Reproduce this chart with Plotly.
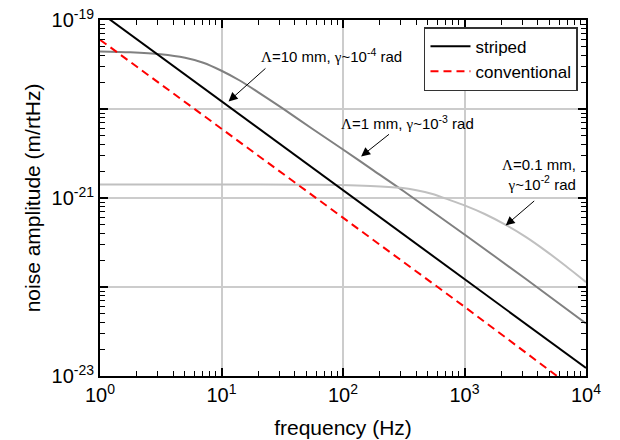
import plotly.graph_objects as go

# ---------------- data ----------------
freq_line = [1, 10, 100, 1000, 10000]
striped = [1.22e-19, 1.22e-20, 1.24e-21, 1.24e-22, 1.23e-23]
conventional = [6.0e-20, 6.02e-21, 6.05e-22, 6.0e-23, 5.7e-24]

freq_1mm = [1, 1.778, 3.162, 5.012, 7.079, 10, 14.13, 19.95, 31.62, 56.23, 100,
            177.8, 316.2, 1000, 3162, 10000]
amp_1mm = [4.44e-20, 4.345e-20, 4.12e-20, 3.76e-20, 3.31e-20, 2.69e-20, 2.09e-20, 1.55e-20,
           1.023e-20, 5.96e-21, 3.51e-21, 2.04e-21, 1.19e-21, 3.89e-22, 1.245e-22, 3.9e-23]

freq_01mm = [1, 10, 44.5, 95.2, 168.2, 297.2, 402.7, 545.5, 739.6, 1000, 1466, 2183,
             3190, 4664, 6820, 10000]
amp_01mm = [1.419e-21, 1.419e-21, 1.410e-21, 1.400e-21, 1.368e-21, 1.302e-21, 1.224e-21,
            1.109e-21, 9.59e-22, 8.26e-22, 6.61e-22, 4.99e-22, 3.66e-22, 2.55e-22,
            1.72e-22, 1.135e-22]

x_tickvals = [1, 10, 100, 1000, 10000]
x_ticktext = ["10<sup>0</sup>", "10<sup>1</sup>", "10<sup>2</sup>", "10<sup>3</sup>", "10<sup>4</sup>"]
y_tickvals = [1e-23, 1e-22, 1e-21, 1e-20, 1e-19]
y_ticktext = ["10<sup>-23</sup>", "", "10<sup>-21</sup>", "", "10<sup>-19</sup>"]

series_names = ["striped", "conventional"]
x_title = "frequency (Hz)"
y_title = "noise amplitude (m/rtHz)"

SERIF = "<span style='font-family:Liberation Serif'>{}</span>"
label_10mm = SERIF.format("Λ") + "=10 mm, " + SERIF.format("γ") + "~10<sup>-4</sup> rad"
label_1mm = SERIF.format("Λ") + "=1 mm, " + SERIF.format("γ") + "~10<sup>-3</sup> rad"
label_01mm = SERIF.format("Λ") + "=0.1 mm,<br>" + SERIF.format("γ") + "~10<sup>-2</sup> rad"

# ---------------- figure ----------------
fig = go.Figure()
fig.add_trace(go.Scatter(x=freq_1mm, y=amp_1mm, mode="lines",
                         line=dict(color="rgb(128,128,128)", width=2, shape="spline",
                                   smoothing=0.8), showlegend=False))
fig.add_trace(go.Scatter(x=freq_01mm, y=amp_01mm, mode="lines",
                         line=dict(color="rgb(192,192,192)", width=2, shape="spline",
                                   smoothing=0.6), showlegend=False))
fig.add_trace(go.Scatter(x=freq_line, y=striped, mode="lines", name=series_names[0],
                         line=dict(color="black", width=2)))
fig.add_trace(go.Scatter(x=freq_line, y=conventional, mode="lines", name=series_names[1],
                         line=dict(color="red", width=2, dash="8px,5px")))

minor_x = [m * 10 ** e for e in range(0, 4) for m in range(2, 10)]
minor_y = [m * 10.0 ** e for e in range(-23, -19) for m in range(2, 10)]

axis_common = dict(
    showline=True, linecolor="black", linewidth=2, mirror="ticks",
    ticks="inside", ticklen=8, tickwidth=1.5, tickcolor="black",
    showgrid=True, gridcolor="#cccccc", gridwidth=1.5, zeroline=False,
    automargin=False,
    tickfont=dict(family="Liberation Sans, Arial", size=20, color="black"),
    title_font=dict(family="Liberation Sans, Arial", size=21, color="black"),
)

fig.update_xaxes(type="log", range=[0, 4], tickmode="array", tickvals=x_tickvals,
                 ticktext=x_ticktext, title_text=x_title, title_standoff=15,
                 minor=dict(tickmode="array", tickvals=minor_x, ticks="inside", ticklen=5,
                            tickwidth=1.2, tickcolor="black", showgrid=False),
                 **axis_common)
fig.update_yaxes(type="log", range=[-23, -19], tickmode="array", tickvals=y_tickvals,
                 ticktext=y_ticktext, title_text=y_title, title_standoff=5,
                 minor=dict(tickmode="array", tickvals=minor_y, ticks="inside", ticklen=5,
                            tickwidth=1.2, tickcolor="black", showgrid=False),
                 **axis_common)

ann_font = dict(family="Liberation Sans, Arial", size=15, color="black")
annotations = [
    dict(x=1.904, y=-19.40, xref="x", yref="y", text=label_10mm, showarrow=False, font=ann_font),
    dict(x=2.531, y=-20.15, xref="x", yref="y", text=label_1mm, showarrow=False, font=ann_font),
    dict(x=3.935, y=-20.735, xref="x", yref="y", text=label_01mm, showarrow=False,
         font=ann_font, xanchor="right", align="right"),
]
arrows = [
    ((1.058, -19.915), (1.374, -19.529)),
    ((2.149, -20.533), (2.391, -20.271)),
    ((3.339, -21.308), (3.586, -21.019)),
]
for (tx, ty), (ax, ay) in arrows:
    annotations.append(dict(x=tx, y=ty, ax=ax, ay=ay, xref="x", yref="y", axref="x", ayref="y",
                            text="", showarrow=True, arrowhead=2, arrowsize=1.8, arrowwidth=1,
                            arrowcolor="black", standoff=0))

fig.update_layout(
    width=620, height=440, autosize=False,
    margin=dict(l=100, r=34, t=20, b=64),
    plot_bgcolor="white", paper_bgcolor="white",
    font=dict(family="Liberation Sans, Arial", color="black"),
    legend=dict(x=0.9835, y=0.98, xanchor="right", yanchor="top",
                bgcolor="white", bordercolor="#333333", borderwidth=1.5,
                font=dict(family="Liberation Sans, Arial", size=17, color="black"),
                itemwidth=40, tracegroupgap=0),
    annotations=annotations,
)

fig.write_html("out.html", config={"displayModeBar": False},
               post_script="document.body.style.margin='0px';")
